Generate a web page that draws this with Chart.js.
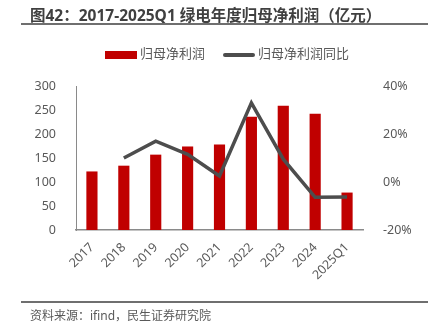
<!DOCTYPE html>
<html>
<head>
<meta charset="utf-8">
<script src="https://cdn.jsdelivr.net/npm/chart.js@4.4.1/dist/chart.umd.min.js"></script>
<style>
	html, body { margin: 0; padding: 0; background: #fff; }
	body { width: 431px; height: 333px; position: relative; overflow: hidden; font-family: "Noto Sans", "Noto Sans CJK SC", sans-serif; }
	#title { position: absolute; left: 30px; top: 3px; font-size: 15.5px; font-weight: bold; color: #404040; white-space: nowrap; }
	.rule { position: absolute; left: 21px; width: 407px; height: 2px; background: #6f6f6f; }
	#legend { position: absolute; top: 44px; left: 0; width: 431px; height: 18px; font-size: 13px; color: #595959; }
	.lg { position: absolute; top: 0; line-height: 18px; white-space: nowrap; }
	.lg i { display: inline-block; vertical-align: middle; margin-right: 3px; }
	#source { position: absolute; left: 30px; top: 306px; font-size: 12px; color: #595959; white-space: nowrap; }
	#wrap { position: absolute; left: 0; top: 0; width: 431px; height: 333px; }
</style>
</head>
<body>
<div id="wrap"><canvas id="profitChart" width="431" height="333"></canvas></div>
<div id="title">图42：2017-2025Q1 绿电年度归母净利润（亿元）</div>
<div class="rule" style="top:23px"></div>
<div id="legend">
	<span class="lg" style="left:105px"><i style="width:32px;height:8px;background:#C00000"></i>归母净利润</span>
	<span class="lg" style="left:223px"><i style="width:32px;height:4px;border-radius:2px;background:#4d4d4d"></i>归母净利润同比</span>
</div>
<div class="rule" style="top:301px"></div>
<div id="source">资料来源：ifind，民生证券研究院</div>
<script>
	// values
	const years = ["2017", "2018", "2019", "2020", "2021", "2022", "2023", "2024", "2025Q1"];
	const netProfit = [122, 134, 157, 174, 178, 236, 259, 242, 78];   // 亿元
	const yoyGrowth = [null, 0.10, 0.17, 0.115, 0.025, 0.33, 0.095, -0.064, -0.063];
	const leftTicks = [0, 50, 100, 150, 200, 250, 300];
	const rightTicks = [-0.2, 0, 0.2, 0.4];

	const tickFont = { family: "'Noto Sans', 'Noto Sans CJK SC', sans-serif", size: 12.5 };
	const tickColor = "#595959";

	const ctx = document.getElementById("profitChart");
	new Chart(ctx, {
		data: {
			labels: years,
			datasets: [{
				type: "line",
				label: "归母净利润同比",
				data: yoyGrowth,
				yAxisID: "y1",
				borderColor: "#4d4d4d",
				borderWidth: 3.5,
				pointRadius: 0,
				tension: 0,
				spanGaps: false,
				order: 0
			},
			{
				type: "bar",
				label: "归母净利润",
				data: netProfit,
				yAxisID: "y",
				backgroundColor: "#C00000",
				categoryPercentage: 1,
				barPercentage: 0.35,
				order: 1
			}]
		},
		options: {
			responsive: false,
			animation: false,
			layout: { padding: { left: 20, right: 10, top: 86, bottom: 33 } },
			plugins: {
				legend: { display: false },
				tooltip: { enabled: false }
			},
			scales: {
				x: {
					grid: { display: false },
					border: { display: true, color: "#8a8a8a", width: 1.5 },
					ticks: { color: tickColor, font: tickFont, minRotation: 45, maxRotation: 45, padding: 2 },
					afterFit: (scale) => { scale.height = 70; }
				},
				y: {
					position: "left",
					min: leftTicks[0],
					max: leftTicks[leftTicks.length - 1],
					afterBuildTicks: (scale) => { scale.ticks = leftTicks.map(v => ({ value: v })); },
					grid: { display: false },
					border: { display: true, color: "#8a8a8a", width: 1 },
					ticks: { color: tickColor, font: tickFont, padding: 12 },
					afterFit: (scale) => { scale.width = 56; }
				},
				y1: {
					position: "right",
					min: rightTicks[0],
					max: rightTicks[rightTicks.length - 1],
					afterBuildTicks: (scale) => { scale.ticks = rightTicks.map(v => ({ value: v })); },
					grid: { display: false },
					border: { display: false },
					ticks: {
						color: tickColor, font: tickFont, padding: 12,
						callback: (v) => Math.round(v * 100) + "%"
					},
					afterFit: (scale) => { scale.width = 58; }
				}
			}
		}
	});
</script>
</body>
</html>
